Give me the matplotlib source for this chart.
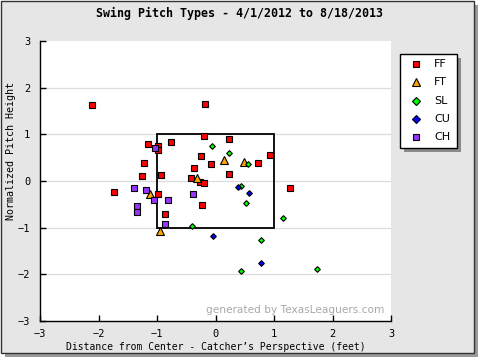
import matplotlib
matplotlib.use("Agg")
import matplotlib.pyplot as plt
from matplotlib.patches import Rectangle
from matplotlib.lines import Line2D

# ---- data ----
pitch_types = ["FF", "FT", "SL", "CU", "CH"]

ff_x = [-2.11, -0.18, -1.16, -0.99, -0.99, -0.76, -0.20, 0.23, -0.25, -0.08, -1.23, -0.37,
        0.23, -1.26, -0.94, -0.42, -0.27, -0.20, -1.74, -0.99, -0.23, -0.87, 0.72, 0.93, 1.27]
ff_y = [1.62, 1.66, 0.79, 0.74, 0.66, 0.83, 0.96, 0.89, 0.53, 0.36, 0.38, 0.27,
        0.16, 0.10, 0.12, 0.06, -0.03, -0.05, -0.24, -0.28, -0.52, -0.71, 0.38, 0.55, -0.16]

ft_x = [0.14, 0.49, -0.32, -1.12, -0.95]
ft_y = [0.46, 0.40, 0.06, -0.28, -1.08]

sl_x = [-0.06, 0.23, 0.56, 0.43, 0.52, 1.15, -0.41, 0.77, 0.43, 1.73]
sl_y = [0.76, 0.61, 0.36, -0.11, -0.48, -0.80, -0.97, -1.27, -1.93, -1.89]

cu_x = [0.38, 0.57, -0.05, 0.77]
cu_y = [-0.13, -0.26, -1.18, -1.76]

ch_x = [-1.04, -1.40, -1.19, -1.05, -0.82, -0.39, -1.35, -1.35, -0.87]
ch_y = [0.70, -0.16, -0.20, -0.41, -0.41, -0.28, -0.54, -0.67, -0.93]

ticks = [-3, -2, -1, 0, 1, 2, 3]
zone_x = (-1, 1)
zone_y = (-1, 1)

# ---- figure ----
W, H = 480, 360
fig = plt.figure(figsize=(4.8, 3.6), dpi=100)
fig.patch.set_facecolor("white")
mono = "DejaVu Sans Mono"

def px(x, y):
    return x / W, 1 - y / H

# outer panel with shadow
x0, y0 = px(5, 357)
fig.patches.append(Rectangle((x0, y0), (478 - 5) / W, (357 - 5) / H,
                             transform=fig.transFigure, facecolor="#9a9a9a",
                             edgecolor="none", zorder=-10))
x0, y0 = px(1, 353)
fig.patches.append(Rectangle((x0, y0), (474 - 1) / W, (353 - 1) / H,
                             transform=fig.transFigure, facecolor="#e6e6e6",
                             edgecolor="#333333", linewidth=1.0, zorder=-9))

ax = fig.add_axes([40 / W, 1 - 321 / H, (391 - 40) / W, (321 - 41) / H])
ax.set_zorder(1)
ax.set_facecolor("white")
ax.set_xlim(-3, 3)
ax.set_ylim(-3, 3)
for s in ["top", "right"]:
    ax.spines[s].set_visible(False)
for s in ["left", "bottom"]:
    ax.spines[s].set_linewidth(1.0)
    ax.spines[s].set_color("black")
ax.set_xticks(ticks)
ax.set_yticks(ticks)
ax.set_xticklabels([str(t).replace("-", "\u2212") for t in ticks], fontfamily=mono, fontsize=7.5)
ax.set_yticklabels([str(t).replace("-", "\u2212") for t in ticks], fontfamily=mono, fontsize=7.5)
ax.tick_params(axis="x", direction="in", length=4, width=1, pad=6)
ax.tick_params(axis="y", direction="in", length=4, width=1, pad=7)
for t in [-2, -1, 0, 1, 2]:
    ax.axhline(t, color="#dcdcdc", linewidth=0.9, zorder=0)

ax.add_patch(Rectangle((zone_x[0], zone_y[0]), zone_x[1] - zone_x[0], zone_y[1] - zone_y[0],
                       fill=False, edgecolor="black", linewidth=1.3, zorder=1))

ax.set_xlabel("Distance from Center - Catcher\u2019s Perspective (feet)",
              fontfamily=mono, fontsize=7, labelpad=2)
lx, ly = px(11, 151)
fig.text(lx, ly, "Normalized Pitch Height", fontfamily=mono, fontsize=7.2,
         rotation=90, ha="center", va="center")

styles = {
    "FF": dict(marker="s", color="#ff0000", ms=3.9),
    "FT": dict(marker="^", color="#ffa500", ms=5.2),
    "SL": dict(marker="D", color="#00ff00", ms=2.9),
    "CU": dict(marker="D", color="#0000ff", ms=2.9),
    "CH": dict(marker="s", color="#9933ff", ms=3.9),
}
data = {"FF": (ff_x, ff_y), "FT": (ft_x, ft_y), "SL": (sl_x, sl_y),
        "CU": (cu_x, cu_y), "CH": (ch_x, ch_y)}
for name in pitch_types:
    st = styles[name]
    xs, ys = data[name]
    ax.plot(xs, ys, linestyle="none", marker=st["marker"], markersize=st["ms"],
            markerfacecolor=st["color"], markeredgecolor="black", markeredgewidth=0.8, zorder=3)

ax.text(0.982, 0.04, "generated by TexasLeaguers.com", transform=ax.transAxes,
        ha="right", va="center", fontsize=7.6, color="#a8a8a8", family="DejaVu Sans")

fig.text(0.5, 1 - 13 / H, "Swing Pitch Types - 4/1/2012 to 8/18/2013",
         ha="center", va="center", fontfamily=mono, fontweight="bold", fontsize=8.4)

# legend box with shadow
lx0, ly0 = px(404, 152)
fig.patches.append(Rectangle((lx0, ly0), 57 / W, 94 / H, transform=fig.transFigure,
                             facecolor="#8a8a8a", edgecolor="none", zorder=5))
lx0, ly0 = px(400, 148)
fig.patches.append(Rectangle((lx0, ly0), 57 / W, 94 / H, transform=fig.transFigure,
                             facecolor="white", edgecolor="black", linewidth=1.0, zorder=6))
leg_ms = {"FF": 5.0, "FT": 6.0, "SL": 4.0, "CU": 4.0, "CH": 5.0}
for i, name in enumerate(pitch_types):
    yy = 64 + i * 18.3
    st = styles[name]
    mx, my = px(416, yy)
    fig.add_artist(Line2D([mx], [my], transform=fig.transFigure, linestyle="none",
                          marker=st["marker"], markersize=leg_ms[name],
                          markerfacecolor=st["color"], markeredgecolor="black",
                          markeredgewidth=0.8, zorder=7))
    tx, ty = px(434, yy)
    fig.text(tx, ty, name, ha="left", va="center", fontsize=8, family="DejaVu Sans",
             zorder=7)

fig.savefig("out.png", dpi=100)
